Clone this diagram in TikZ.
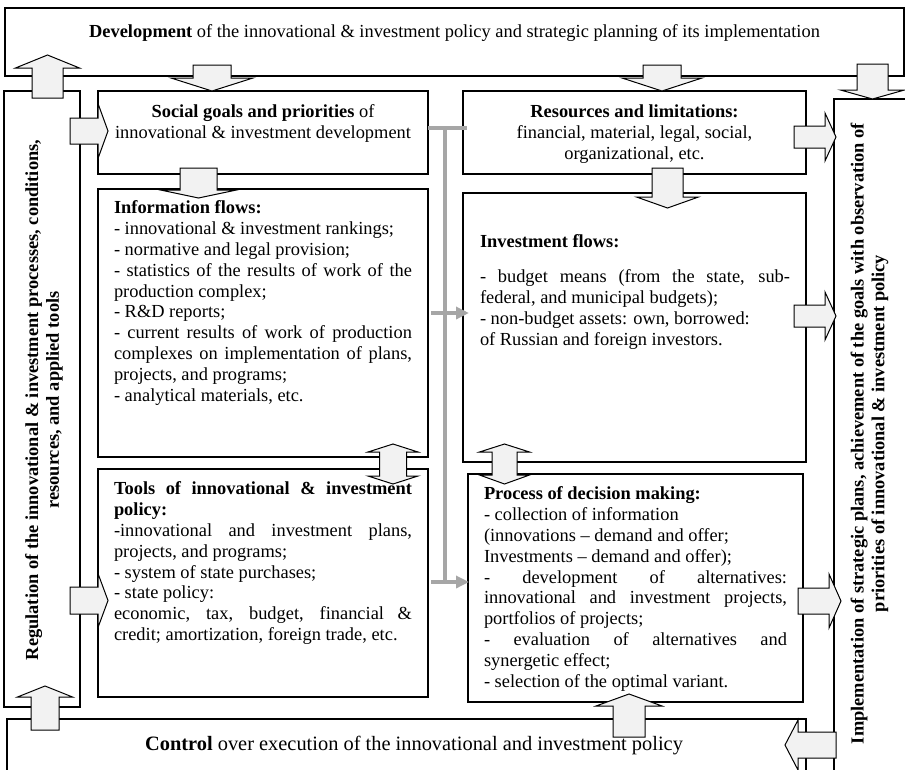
\documentclass[tikz,border=0pt]{standalone}
\usepackage{fontspec}
\setmainfont{Liberation Serif}
\usetikzlibrary{arrows.meta,calc}
\definecolor{afill}{HTML}{F2F2F2}
\definecolor{gline}{HTML}{A6A6A6}
% vertical block arrow: cx, ystart, ybase, ytip, shaft half, head half
\newcommand\myvarr[6]{\draw[barrow] ({#1-#5},#2) -- ({#1-#5},#3) -- ({#1-#6},#3) -- (#1,#4) -- ({#1+#6},#3) -- ({#1+#5},#3) -- ({#1+#5},#2) -- cycle;}
% horizontal block arrow: cy, xstart, xbase, xtip, shaft half, head half
\newcommand\myharr[6]{\draw[barrow] (#2,{#1-#5}) -- (#3,{#1-#5}) -- (#3,{#1-#6}) -- (#4,#1) -- (#3,{#1+#6}) -- (#3,{#1+#5}) -- (#2,{#1+#5}) -- cycle;}
% vertical double block arrow: cx, ytoptip, ytopbase, ybotbase, ybottip, shaft half, head half
\newcommand\mydvarr[7]{\draw[barrow] (#1,#2) -- ({#1+#7},#3) -- ({#1+#6},#3) -- ({#1+#6},#4) -- ({#1+#7},#4) -- (#1,#5) -- ({#1-#7},#4) -- ({#1-#6},#4) -- ({#1-#6},#3) -- ({#1-#7},#3) -- cycle;}
\newcommand\jl[2]{\makebox[#1][s]{#2}}
\begin{document}
\begin{tikzpicture}[x=1pt,y=-1pt,
  box/.style={draw, line width=1.2pt, inner sep=0pt, outer sep=0pt, anchor=north west},
  txt/.style={inner sep=0pt, outer sep=0pt, font=\fontsize{18.4}{20.8}\selectfont},
  bigtxt/.style={inner sep=0pt, outer sep=0pt, font=\fontsize{20.4}{23}\selectfont},
  barrow/.style={draw, fill=afill, line width=1pt, line join=miter},
  gconn/.style={draw=gline, line width=4.3pt},
  garrow/.style={draw=gline, line width=4.3pt, -{Triangle[length=13pt,width=12pt,fill=gline]}}]
\useasboundingbox (0,0) rectangle (905,769);
% boxes
\node[box, minimum width=899pt, minimum height=68pt] (dev) at (5,8) {};
\node[box, minimum width=76pt, minimum height=616pt] (reg) at (4,91) {};
\node[box, minimum width=330pt, minimum height=83pt] (social) at (98,91) {};
\node[box, minimum width=343pt, minimum height=83pt] (resources) at (463,91) {};
\node[box, minimum width=90pt, minimum height=700pt] (impl) at (834,99) {};
\node[box, minimum width=330pt, minimum height=268pt] (info) at (98,189) {};
\node[box, minimum width=343pt, minimum height=269pt] (invest) at (463,193) {};
\node[box, minimum width=330pt, minimum height=228pt] (tools) at (98,469) {};
\node[box, minimum width=335pt, minimum height=228pt] (process) at (468,474) {};
\node[box, minimum width=799pt, minimum height=80pt] (control) at (7,719) {};
% gray connector
\coordinate (gtop) at (445,128);
\coordinate (gbot) at (445,582);
\coordinate (ga1) at (431,313);
\coordinate (ga2) at (431,582);
\draw[gconn] (social.east |- gtop) -- ([xshift=4pt]resources.west |- gtop);
\draw[gconn] (gtop) -- (gbot);
\draw[garrow] (ga1) -- ([xshift=6pt]invest.west |- ga1);
\draw[garrow] (ga2) -- ([xshift=1pt]process.west |- ga2);
% block arrows
\myvarr{47.5}{98}{68}{55}{15.5}{32}
\myvarr{212}{65}{78}{91}{19}{41}
\myvarr{662}{65}{78}{91}{19}{40}
\myvarr{872.5}{64}{90}{99}{15.5}{32}
\myharr{131}{70}{98}{108}{13}{27.5}
\myvarr{198.5}{168}{190}{198}{18.5}{38}
\myvarr{667.5}{168}{197}{208}{15.5}{31}
\myharr{137}{794}{825}{836}{11}{24}
\myharr{316}{794}{825}{836}{11}{24}
\mydvarr{393}{444}{452}{476}{484}{13.5}{25}
\mydvarr{504.5}{444}{452}{475}{484}{12.5}{25}
\myharr{600.5}{70}{98}{108}{13.5}{27}
\myharr{601}{798}{829}{841}{13}{27}
\myharr{745}{836}{798}{785}{13}{25}
\myvarr{45}{730}{697}{686}{14}{27.5}
\myvarr{629}{737}{706}{694}{16}{33}
% texts
\node[txt, anchor=base] (devtxt) at (454.5,37) {\textbf{Development} of the innovational \& investment policy and strategic planning of its implementation};
\node[txt, anchor=north, align=center] (socialtxt) at (263,105) {\textbf{Social goals and priorities} of\\innovational \& investment development};
\node[txt, anchor=north, align=center] (restxt) at (634.5,105) {\textbf{Resources and limitations:}\\financial, material, legal, social,\\organizational, etc.};
\node[txt, anchor=north west, align=left] (infotxt) at (114,201) {\textbf{Information flows:}\\
- innovational \& investment rankings;\\
- normative and legal provision;\\
\jl{298pt}{- statistics of the results of work of the}\\
production complex;\\
- R\&D reports;\\
\jl{298pt}{- current results of work of production}\\
\jl{298pt}{complexes on implementation of plans,}\\
projects, and programs;\\
- analytical materials, etc.};
\node[txt, anchor=north west, align=left] (investtxt) at (480,235) {\textbf{Investment flows:}\\[14pt]
\jl{310pt}{- budget means (from the state, sub-}\\
federal, and municipal budgets);\\
- non-budget assets: own, borrowed:\\
of Russian and foreign investors.};
\node[txt, anchor=north west, align=left] (toolstxt) at (114,482) {\jl{298pt}{\textbf{Tools of innovational \& investment}}\\
\textbf{policy:}\\
\jl{298pt}{-innovational and investment plans,}\\
projects, and programs;\\
- system of state purchases;\\
- state policy:\\
\jl{298pt}{economic, tax, budget, financial \&}\\
credit; amortization, foreign trade, etc.};
\node[txt, anchor=north west, align=left] (proctxt) at (484,487) {\textbf{Process of decision making:}\\
- collection of information\\
(innovations – demand and offer;\\
Investments – demand and offer);\\
\jl{303pt}{- development of alternatives:}\\
\jl{303pt}{innovational and investment projects,}\\
portfolios of projects;\\
\jl{303pt}{- evaluation of alternatives and}\\
synergetic effect;\\
- selection of the optimal variant.};
\node[bigtxt, anchor=base] (controltxt) at (414,750) {\textbf{Control} over execution of the innovational and investment policy};
\node[txt, rotate=90, align=center] (regtxt) at (44,400) {\textbf{Regulation of the innovational \& investment processes, conditions,}\\\textbf{resources, and applied tools}};
\node[txt, rotate=90, align=center] (impltxt) at (869.5,433.5) {\textbf{Implementation of strategic plans, achievement of the goals with observation of}\\\textbf{priorities of innovational \& investment policy}};
\end{tikzpicture}
\end{document}
